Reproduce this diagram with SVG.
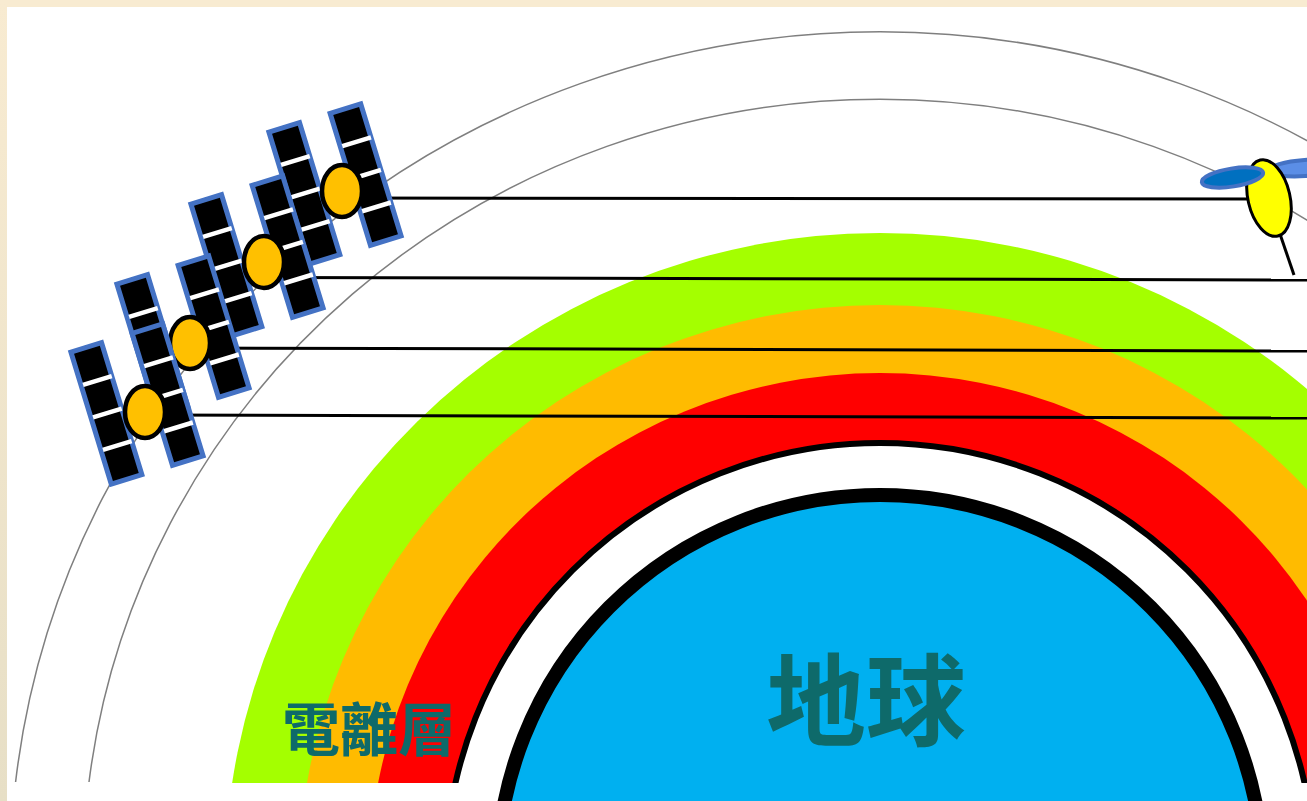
<svg xmlns="http://www.w3.org/2000/svg" xmlns:xlink="http://www.w3.org/1999/xlink" width="1307" height="801" viewBox="0 0 1307 801">
  <style>
    .orbit { fill: none; stroke: #7f7f7f; stroke-width: 1.5; }
    .link { stroke: #000; stroke-width: 3; stroke-linecap: butt; }
    .body { fill: #ffc000; stroke: #000; stroke-width: 4.5; }
    .label { font-family: "Noto Sans CJK TC", "Noto Sans CJK SC", sans-serif; font-weight: 700; fill: #0e6a6a; }
  </style>
  <defs>
    <linearGradient id="edge" x1="0" y1="0" x2="0" y2="1">
      <stop offset="0" stop-color="#f8ebd1"/>
      <stop offset="1" stop-color="#e7dfc6"/>
    </linearGradient>
    <clipPath id="bandClip">
      <rect x="0" y="0" width="1307" height="783"/>
    </clipPath>
    <!-- one solar panel, long axis vertical, centred on the origin -->
    <g id="panel">
      <rect x="-16" y="-69" width="32" height="138" fill="#000" stroke="#4472c4" stroke-width="5"/>
      <path d="M-14 -34H16M-14 0H16M-14 34H16" stroke="#fff" stroke-width="4.5"/>
    </g>
  </defs>

  <!-- page background and frame -->
  <rect x="0" y="0" width="1307" height="801" fill="#fff"/>
  <rect x="0" y="0" width="1307" height="7" fill="#f8ebd1"/>
  <rect x="0" y="0" width="7" height="801" fill="url(#edge)"/>

  <!-- orbits -->
  <g id="orbits">
    <path class="orbit" d="M15.6 782 A870 846 0 0 1 1744.4 782"/>
    <path class="orbit" d="M89 782 A797 778 0 0 1 1671 782"/>
  </g>

  <!-- ionosphere bands -->
  <g id="ionosphere" clip-path="url(#bandClip)">
    <ellipse cx="880" cy="878" rx="655" ry="645" fill="#a4ff00"/>
    <ellipse cx="880" cy="878" rx="581" ry="573" fill="#ffbb00"/>
    <ellipse cx="880" cy="878" rx="511" ry="505" fill="#ff0000"/>
    <circle cx="880" cy="878" r="435" fill="#fff" stroke="#000" stroke-width="6"/>
  </g>

  <!-- earth -->
  <g id="earth">
    <circle cx="880" cy="878" r="383" fill="#00b0f0" stroke="#000" stroke-width="14"/>
    <text class="label" x="866" y="738" font-size="100" text-anchor="middle">地球</text>
  </g>

  <g id="ionosphere-label">
    <text class="label" x="282" y="751" font-size="58">電離層</text>
  </g>

  <!-- signal paths -->
  <g id="links">
    <line class="link" x1="342" y1="198" x2="1262" y2="199"/>
    <line class="link" x1="263" y1="277.5" x2="1307" y2="280"/>
    <line class="link" x1="190" y1="348" x2="1307" y2="351"/>
    <line class="link" x1="145" y1="415" x2="1307" y2="418"/>
  </g>

  <!-- receiving satellite -->
  <g id="receiver">
    <ellipse cx="1305" cy="168" rx="36" ry="8" transform="rotate(-4 1305 168)" fill="#5b8ee6" stroke="#4472c4" stroke-width="4"/>
    <line x1="1280" y1="234" x2="1294" y2="275" stroke="#000" stroke-width="3"/>
    <ellipse cx="1269" cy="198" rx="21" ry="39" transform="rotate(-13 1269 198)" fill="#ffff00" stroke="#000" stroke-width="3"/>
    <ellipse cx="1232.5" cy="177.5" rx="31" ry="9" transform="rotate(-9 1232.5 177.5)" fill="#0070c0" stroke="#4472c4" stroke-width="4"/>
  </g>

  <!-- transmitting satellites, upper first so the lower ones sit on top -->
  <g id="sat4">
    <g transform="translate(335 184) rotate(-17)">
      <use xlink:href="#panel" x="-32"/>
      <use xlink:href="#panel" x="32"/>
    </g>
    <ellipse class="body" cx="342" cy="191" rx="20" ry="26"/>
  </g>
  <g id="sat3">
    <g transform="translate(257 256) rotate(-17)">
      <use xlink:href="#panel" x="-32"/>
      <use xlink:href="#panel" x="32"/>
    </g>
    <ellipse class="body" cx="264" cy="262" rx="20" ry="26"/>
  </g>
  <g id="sat2">
    <g transform="translate(183 336) rotate(-17)">
      <use xlink:href="#panel" x="-32"/>
      <use xlink:href="#panel" x="32"/>
    </g>
    <ellipse class="body" cx="190" cy="343" rx="20" ry="26"/>
  </g>
  <g id="sat1">
    <g transform="translate(137 404) rotate(-17)">
      <use xlink:href="#panel" x="-32"/>
      <use xlink:href="#panel" x="32"/>
    </g>
    <ellipse class="body" cx="145" cy="412" rx="20" ry="26"/>
  </g>
</svg>
